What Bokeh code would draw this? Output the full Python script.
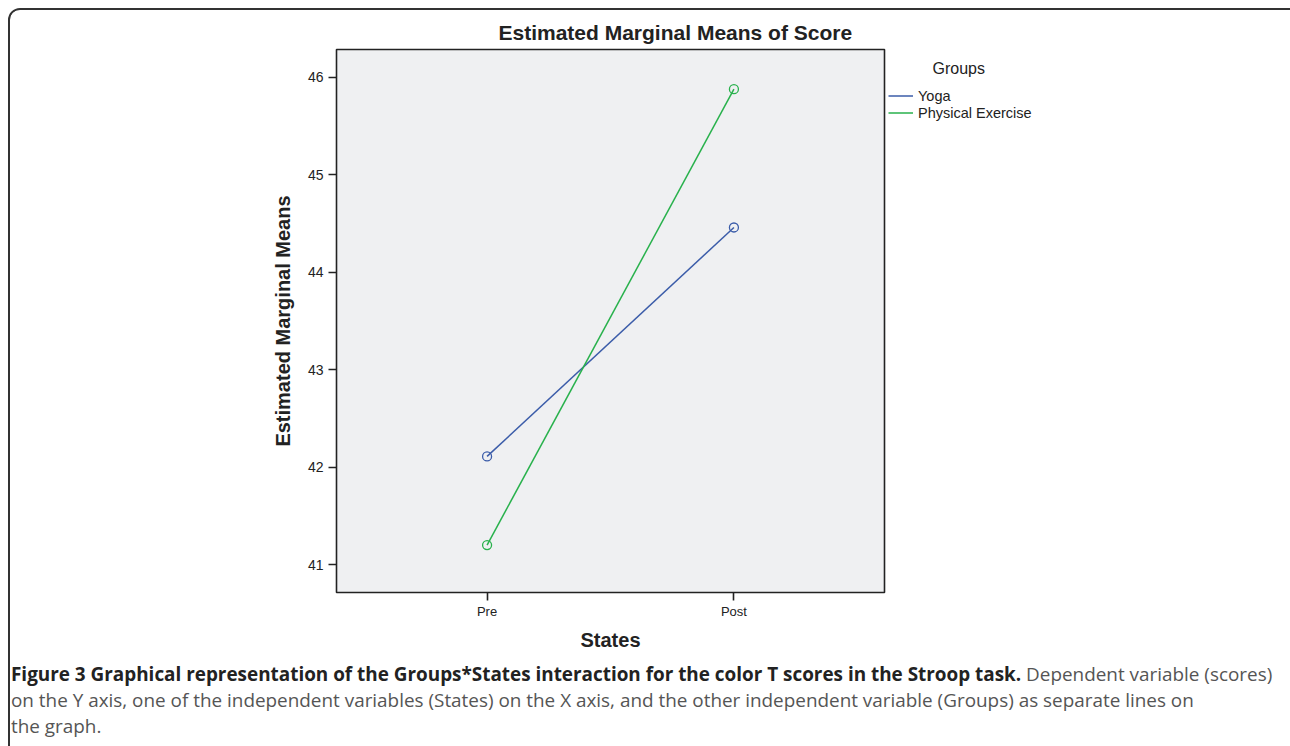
from bokeh.plotting import figure
from bokeh.models import (FactorRange, Range1d, Legend, LegendItem, Div, FixedTicker)
from bokeh.layouts import column
from bokeh.embed import file_html
from bokeh.resources import INLINE

# ---- data ----
states = ["Pre", "Post"]
yoga = [42.11, 44.46]
physical_exercise = [41.20, 45.88]
group_names = ["Yoga", "Physical Exercise"]
y_ticks = [41, 42, 43, 44, 45, 46]

title_text = "Estimated Marginal Means of Score"
x_label = "States"
y_label = "Estimated Marginal Means"
legend_title = "Groups"
caption_bold = ("Figure 3 Graphical representation of the Groups*States interaction "
                "for the color T scores in the Stroop task.")
caption_rest = ["Dependent variable (scores)",
                "on the Y axis, one of the independent variables (States) on the X axis, "
                "and the other independent variable (Groups) as separate lines on",
                "the graph."]

BLUE = "#3b5ca9"
GREEN = "#28b14c"
DARK = "#222222"
FONT = "Liberation Sans"

p = figure(frame_width=548, frame_height=543, output_backend="svg", toolbar_location=None,
           x_range=FactorRange(*states, range_padding=0.11, range_padding_units="absolute"),
           y_range=Range1d(40.713, 46.287),
           min_border_left=326, min_border_right=0, min_border_top=39,
           min_border_bottom=64)

p.title.text = title_text
p.title.text_font = FONT
p.title.text_font_size = "21px"
p.title.text_font_style = "bold"
p.title.text_color = DARK
p.title.align = "left"
p.title.offset = 162
p.title.standoff = 11

p.background_fill_color = "#eff0f2"
p.border_fill_color = "white"
p.outline_line_color = DARK
p.outline_line_width = 1.6
p.xgrid.visible = False
p.ygrid.visible = False

for ax in (p.xaxis[0], p.yaxis[0]):
    ax.axis_line_color = None
    ax.major_tick_line_color = DARK
    ax.major_tick_line_width = 1.6
    ax.major_tick_out = 8
    ax.major_tick_in = 0
    ax.minor_tick_line_color = None
    ax.major_label_text_font = FONT
    ax.major_label_text_color = DARK
    ax.axis_label_text_font = FONT
    ax.axis_label_text_font_style = "bold"
    ax.axis_label_text_color = DARK
    ax.axis_label_text_font_size = "20px"

p.xaxis.axis_label = x_label
p.xaxis.major_label_text_font_size = "13px"
p.xaxis.major_label_standoff = 3
p.xaxis.axis_label_standoff = 7
p.yaxis.axis_label = y_label
p.yaxis.ticker = FixedTicker(ticks=y_ticks)
p.yaxis.major_label_text_font_size = "14px"
p.yaxis.major_label_standoff = 5
p.yaxis.axis_label_standoff = 11

r_yoga = p.line(states, yoga, line_color=BLUE, line_width=1.5)
p.scatter(states, yoga, marker="circle", size=9, fill_color=None,
          line_color=BLUE, line_width=1.3)
r_pe = p.line(states, physical_exercise, line_color=GREEN, line_width=1.5)
p.scatter(states, physical_exercise, marker="circle", size=9, fill_color=None,
          line_color=GREEN, line_width=1.3)

legend = Legend(items=[LegendItem(label=group_names[0], renderers=[r_yoga]),
                       LegendItem(label=group_names[1], renderers=[r_pe])],
                title="\u00a0" * 10 + legend_title,
                title_text_font=FONT, title_text_font_size="16px",
                title_text_font_style="normal", title_text_color=DARK,
                title_standoff=9,
                location=(4, 471), padding=0, margin=0, spacing=0,
                glyph_width=25, glyph_height=17, label_height=17,
                label_standoff=5, label_text_font=FONT,
                label_text_font_size="14.5px", label_text_color=DARK,
                border_line_color=None, background_fill_alpha=0)
p.add_layout(legend, "right")

caption_html = ('<div style="font-family:\'Open Sans\';font-size:18.9px;line-height:26px;'
                'color:#555;position:relative;left:-4px;top:0px;white-space:nowrap;">'
                '<b style="color:#222;">' + caption_bold + '</b> ' + caption_rest[0]
                + '<br>' + caption_rest[1] + '<br>' + caption_rest[2] + '</div>')
cap = Div(text=caption_html, width=1278, height=90)

layout = column(p, cap, spacing=0,
                styles={"border": "2px solid #333", "border-radius": "12px",
                        "overflow": "hidden", "margin-left": "8px",
                        "margin-top": "8px"})

open("out.html", "w").write(file_html(layout, INLINE))
